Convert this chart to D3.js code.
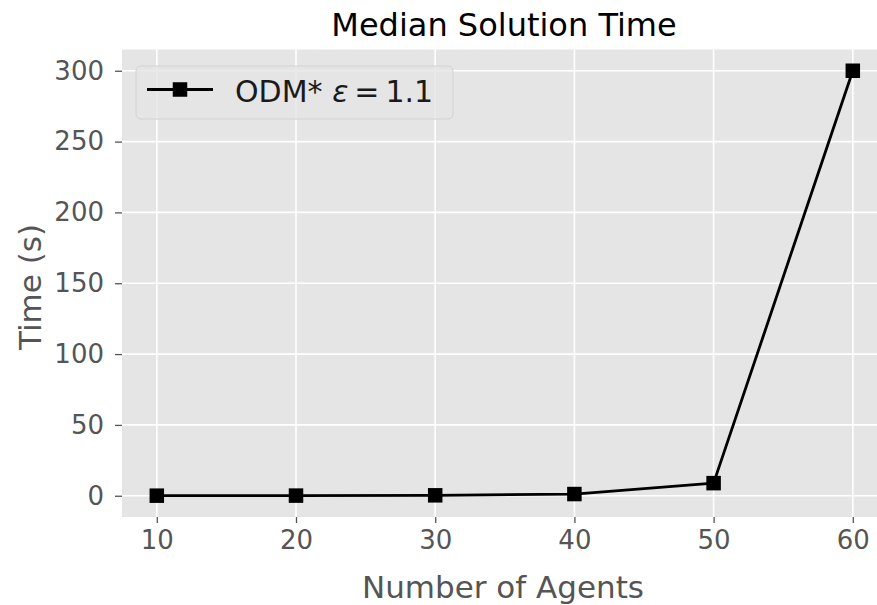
<!DOCTYPE html>
<html><head><meta charset="utf-8">
<script src="https://cdn.jsdelivr.net/npm/d3@7"></script>
<style>
html,body{margin:0;padding:0;background:#fff;}
svg text{font-family:"DejaVu Sans",sans-serif;}
</style></head>
<body><svg id="c" width="877" height="605"></svg>
<script>
const agents = [10, 20, 30, 40, 50, 60];
const times = [0.05, 0.1, 0.3, 1.2, 8.9, 300];
const xTicks = [10, 20, 30, 40, 50, 60];
const yTicks = [0, 50, 100, 150, 200, 250, 300];
const title = "Median Solution Time";
const xLabel = "Number of Agents";
const yLabel = "Time (s)";
const seriesName = "ODM* ";

const svg = d3.select("#c");
const L = 122, T = 49.5, B = 517, R = 887.6;
const x = d3.scaleLinear().domain([7.5, 62.5]).range([L, R]);
const y = d3.scaleLinear().domain([-15, 315]).range([B, T]);

svg.append("rect").attr("x", L).attr("y", T).attr("width", R - L).attr("height", B - T).attr("fill", "#E5E5E5");

// grid
const g = svg.append("g");
g.selectAll(".gx").data(xTicks).join("line")
  .attr("x1", d => x(d)).attr("x2", d => x(d)).attr("y1", T).attr("y2", B)
  .attr("stroke", "#fff").attr("stroke-width", 1.6);
g.selectAll(".gy").data(yTicks).join("line")
  .attr("y1", d => y(d)).attr("y2", d => y(d)).attr("x1", L).attr("x2", R)
  .attr("stroke", "#fff").attr("stroke-width", 1.6);

// axes
const xAxis = d3.axisBottom(x).tickValues(xTicks).tickSize(6).tickPadding(8).tickFormat(d3.format("d"));
const yAxis = d3.axisLeft(y).tickValues(yTicks).tickSize(7).tickPadding(11).tickFormat(d3.format("d"));
const gx = svg.append("g").attr("transform", `translate(0,${B})`).call(xAxis);
const gy = svg.append("g").attr("transform", `translate(${L},0)`).call(yAxis);
[gx, gy].forEach(a => {
  a.select(".domain").remove();
  a.selectAll(".tick line").attr("stroke", "#555").attr("stroke-width", 1.3);
  a.selectAll(".tick text").attr("fill", "#555").style("font-size", "26px").style("font-family", "DejaVu Sans");
});
gx.selectAll(".tick text").attr("dy", "0.71em");

// line + markers
const line = d3.line().x((d, i) => x(agents[i])).y(d => y(d));
svg.append("path").datum(times).attr("d", line).attr("fill", "none")
  .attr("stroke", "#000").attr("stroke-width", 2.8).attr("stroke-linejoin", "round");
const ms = 14.5;
svg.selectAll(".m").data(times).join("rect")
  .attr("x", (d, i) => x(agents[i]) - ms / 2).attr("y", d => y(d) - ms / 2)
  .attr("width", ms).attr("height", ms).attr("fill", "#000");

// title & labels
svg.append("text").attr("x", 504).attr("y", 36).attr("text-anchor", "middle")
  .attr("fill", "#000").style("font-size", "32px").text(title);
svg.append("text").attr("x", 503).attr("y", 598).attr("text-anchor", "middle")
  .attr("fill", "#555").style("font-size", "31px").text(xLabel);
svg.append("text").attr("transform", "translate(41,287) rotate(-90)").attr("text-anchor", "middle")
  .attr("fill", "#555").style("font-size", "31px").text(yLabel);

// legend
const lg = svg.append("g");
lg.append("rect").attr("x", 136).attr("y", 66).attr("width", 317).attr("height", 53).attr("rx", 5)
  .attr("fill", "#E5E5E5").attr("fill-opacity", 0.8).attr("stroke", "#D2D2D2").attr("stroke-width", 1);
lg.append("line").attr("x1", 147).attr("x2", 213).attr("y1", 89.5).attr("y2", 89.5)
  .attr("stroke", "#000").attr("stroke-width", 2.8);
lg.append("rect").attr("x", 180 - ms / 2).attr("y", 89.5 - ms / 2).attr("width", ms).attr("height", ms).attr("fill", "#000");
const lt = lg.append("text").attr("x", 235).attr("y", 101.5).attr("fill", "#1a1a1a").style("font-size", "30px");
lt.append("tspan").text(seriesName);
lt.append("tspan").style("font-style", "italic").text("ε");
lt.append("tspan").text("\u2009=\u20091.1");
</script></body></html>
